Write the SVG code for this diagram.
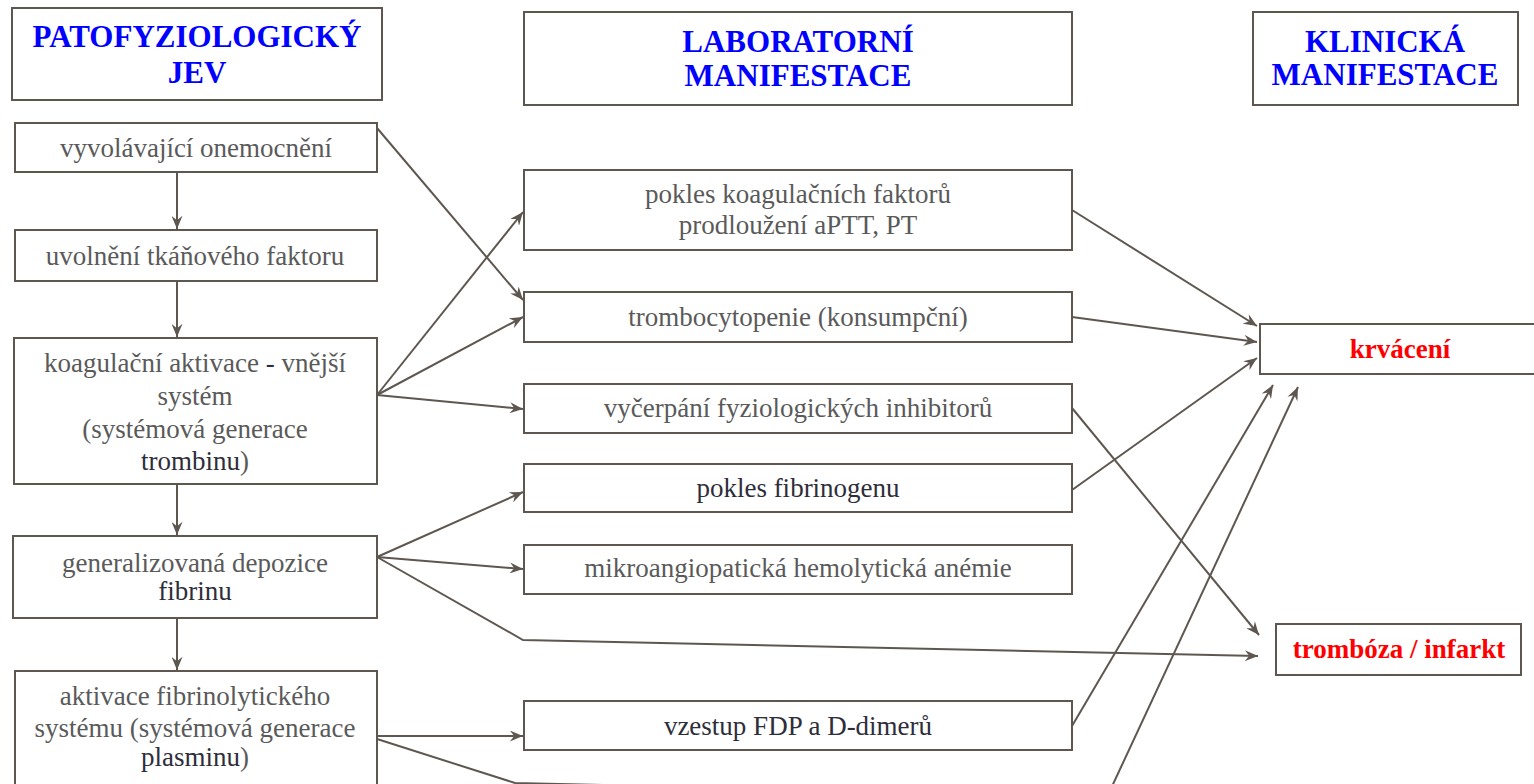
<svg xmlns="http://www.w3.org/2000/svg" width="1534" height="784" viewBox="0 0 1534 784">
<style>
  .box { fill: #ffffff; stroke: #5e5750; stroke-width: 2; }
  .hdr { font-family: "Liberation Serif", "Times New Roman", serif; font-weight: bold; font-size: 31px; fill: #0000ff; text-anchor: middle; }
  .txt { font-family: "Liberation Serif", "Times New Roman", serif; font-size: 27px; fill: #5a5a5a; text-anchor: middle; }
  .dk { fill: #2e2e3a; }
  .red { font-family: "Liberation Serif", "Times New Roman", serif; font-weight: bold; font-size: 27px; fill: #ff0000; text-anchor: middle; }
  .con { fill: none; stroke: #5e5750; stroke-width: 2; }
</style>
<defs>
  <marker id="arr" viewBox="0 0 12 10" refX="12" refY="5" markerWidth="14" markerHeight="11" markerUnits="userSpaceOnUse" orient="auto">
    <path d="M0,0 L12,5 L0,10 L4,5 Z" fill="#5e5750"/>
  </marker>
</defs>
<rect width="1534" height="784" fill="#ffffff"/>

<g id="connectors">
  <line class="con" x1="177" y1="173" x2="177" y2="229" marker-end="url(#arr)"/>
  <line class="con" x1="177" y1="282" x2="177" y2="337" marker-end="url(#arr)"/>
  <line class="con" x1="177" y1="485" x2="177" y2="535" marker-end="url(#arr)"/>
  <line class="con" x1="177" y1="619" x2="177" y2="670" marker-end="url(#arr)"/>
  <line class="con" x1="377" y1="128" x2="523" y2="300" marker-end="url(#arr)"/>
  <line class="con" x1="377" y1="395" x2="523" y2="212" marker-end="url(#arr)"/>
  <line class="con" x1="377" y1="395" x2="523" y2="317" marker-end="url(#arr)"/>
  <line class="con" x1="377" y1="395" x2="523" y2="409" marker-end="url(#arr)"/>
  <line class="con" x1="377" y1="557" x2="523" y2="492" marker-end="url(#arr)"/>
  <line class="con" x1="377" y1="557" x2="523" y2="569" marker-end="url(#arr)"/>
  <polyline class="con" points="377,557 523,640 1258,656" marker-end="url(#arr)"/>
  <line class="con" x1="377" y1="736" x2="523" y2="736" marker-end="url(#arr)"/>
  <polyline class="con" points="377,739 515,783 1000,794"/>
  <line class="con" x1="1072" y1="210" x2="1257" y2="326" marker-end="url(#arr)"/>
  <line class="con" x1="1072" y1="317" x2="1257" y2="342" marker-end="url(#arr)"/>
  <line class="con" x1="1072" y1="490" x2="1257" y2="358" marker-end="url(#arr)"/>
  <line class="con" x1="1072" y1="726" x2="1273" y2="385" marker-end="url(#arr)"/>
  <line class="con" x1="1108" y1="795" x2="1298" y2="387" marker-end="url(#arr)"/>
  <line class="con" x1="1072" y1="408" x2="1259" y2="635" marker-end="url(#arr)"/>
</g>

<g id="hdr-patofyziologicky">
  <rect class="box" x="12" y="8" width="370" height="92"/>
  <text class="hdr" x="197" y="47">PATOFYZIOLOGICKÝ</text>
  <text class="hdr" x="197" y="83">JEV</text>
</g>
<g id="hdr-laboratorni">
  <rect class="box" x="524" y="12" width="548" height="93"/>
  <text class="hdr" x="798" y="52">LABORATORNÍ</text>
  <text class="hdr" x="798" y="86">MANIFESTACE</text>
</g>
<g id="hdr-klinicka">
  <rect class="box" x="1253" y="12" width="265" height="93"/>
  <text class="hdr" x="1385" y="52">KLINICKÁ</text>
  <text class="hdr" x="1385" y="85">MANIFESTACE</text>
</g>

<g id="n-vyvolavajici">
  <rect class="box" x="15" y="123" width="362" height="49"/>
  <text class="txt" x="196" y="157">vyvolávající onemocnění</text>
</g>
<g id="n-uvolneni">
  <rect class="box" x="15" y="230" width="362" height="51"/>
  <text class="txt" x="195" y="265">uvolnění tkáňového faktoru</text>
</g>
<g id="n-koagulacni">
  <rect class="box" x="14" y="338" width="363" height="146"/>
  <text class="txt" x="195" y="372">koagulační aktivace <tspan class="dk">-</tspan> vnější</text>
  <text class="txt" x="195" y="405">systém</text>
  <text class="txt" x="195" y="438">(systémová generace</text>
  <text class="txt" x="195" y="470"><tspan class="dk">trombinu</tspan>)</text>
</g>
<g id="n-depozice">
  <rect class="box" x="13" y="536" width="364" height="82"/>
  <text class="txt" x="195" y="572">generalizovaná depozice</text>
  <text class="txt dk" x="195" y="600">fibrinu</text>
</g>
<g id="n-fibrinolyza">
  <rect class="box" x="15" y="671" width="362" height="130"/>
  <text class="txt" x="195" y="705">aktivace fibrinolytického</text>
  <text class="txt" x="195" y="737">systému (systémová generace</text>
  <text class="txt" x="195" y="766"><tspan class="dk">plasminu</tspan>)</text>
</g>

<g id="n-pokles-faktoru">
  <rect class="box" x="524" y="170" width="548" height="80"/>
  <text class="txt" x="798" y="203">pokles koagulačních faktorů</text>
  <text class="txt" x="798" y="234">prodloužení aPTT, PT</text>
</g>
<g id="n-trombocytopenie">
  <rect class="box" x="524" y="292" width="548" height="50"/>
  <text class="txt" x="798" y="326">trombocytopenie (konsumpční)</text>
</g>
<g id="n-vycerpani">
  <rect class="box" x="524" y="384" width="548" height="49"/>
  <text class="txt" x="798" y="417">vyčerpání fyziologických inhibitorů</text>
</g>
<g id="n-fibrinogen">
  <rect class="box" x="524" y="464" width="548" height="48"/>
  <text class="txt dk" x="798" y="497">pokles fibrinogenu</text>
</g>
<g id="n-mikroangio">
  <rect class="box" x="524" y="545" width="548" height="49"/>
  <text class="txt" x="798" y="577">mikroangiopatická hemolytická anémie</text>
</g>
<g id="n-fdp">
  <rect class="box" x="524" y="701" width="548" height="49"/>
  <text class="txt dk" x="798" y="735">vzestup FDP a D-dimerů</text>
</g>

<g id="n-krvaceni">
  <rect class="box" x="1260" y="324" width="300" height="50"/>
  <text class="red" x="1400" y="358">krvácení</text>
</g>
<g id="n-tromboza">
  <rect class="box" x="1276" y="624" width="245" height="51"/>
  <text class="red" x="1399" y="658">trombóza / infarkt</text>
</g>
</svg>
